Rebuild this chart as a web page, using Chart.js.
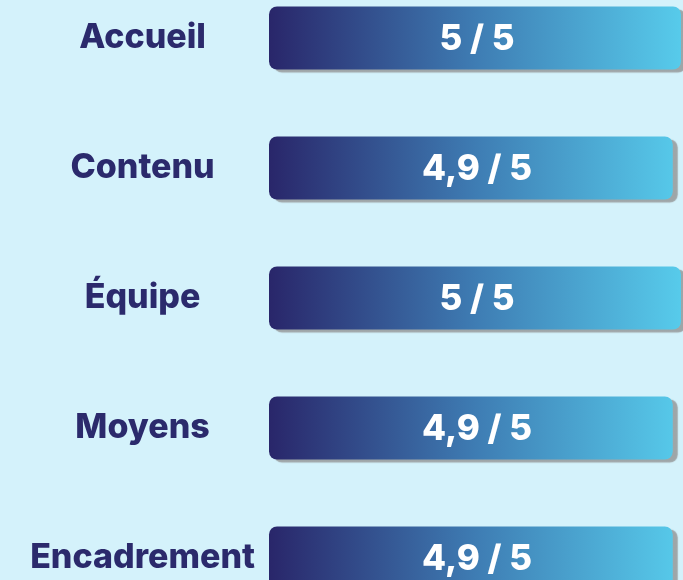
<!DOCTYPE html>
<html>
<head>
<meta charset="utf-8">
<script src="https://cdn.jsdelivr.net/npm/chart.js@4.4.1/dist/chart.umd.min.js"></script>
<style>
html, body { margin: 0; padding: 0; background: #d4f2fb; overflow: hidden; width: 683px; height: 580px; }
#wrap { position: absolute; left: 0; top: -27px; width: 683px; height: 650px; }
</style>
</head>
<body>
<div id="wrap"><canvas id="notes"></canvas></div>
<script>
var categories = ['Accueil', 'Contenu', 'Équipe', 'Moyens', 'Encadrement'];
var notes = [5, 4.9, 5, 4.9, 4.9];
var noteMax = 5;

var navy = '#2b2a6c';

function barGradient(context) {
    var chart = context.chart;
    var area = chart.chartArea;
    if (!area) return navy;
    var g = chart.ctx.createLinearGradient(area.left, 0, area.right, 0);
    g.addColorStop(0, '#29266a');
    g.addColorStop(0.5, '#3e7cb3');
    g.addColorStop(1, '#57cbeb');
    return g;
}

// grey drop shadow behind the bars
var barShadow = {
    id: 'barShadow',
    beforeDatasetDraw: function(chart) {
        var c = chart.ctx;
        c.save();
        c.shadowColor = 'rgba(140,140,140,0.75)';
        c.shadowOffsetX = 5;
        c.shadowOffsetY = 3;
        c.shadowBlur = 1;
    },
    afterDatasetDraw: function(chart) {
        chart.ctx.restore();
    }
};

// "5 / 5" text in the middle of each bar
var noteLabels = {
    id: 'noteLabels',
    afterDatasetsDraw: function(chart) {
        var c = chart.ctx;
        var area = chart.chartArea;
        var meta = chart.getDatasetMeta(0);
        c.save();
        c.fillStyle = '#ffffff';
        c.font = '800 35px Inter';
        c.textAlign = 'center';
        c.textBaseline = 'middle';
        meta.data.forEach(function(bar, i) {
            var txt = String(notes[i]).replace('.', ',') + ' / ' + noteMax;
            c.fillText(txt, (area.left + area.right) / 2 + 2, bar.y + 1);
        });
        c.restore();
    }
};

new Chart(document.getElementById('notes'), {
    type: 'bar',
    data: {
        labels: categories,
        datasets: [{
            data: notes,
            backgroundColor: barGradient,
            borderRadius: 8,
            borderSkipped: false,
            categoryPercentage: 1,
            barPercentage: 0.485,
            clip: false
        }]
    },
    options: {
        indexAxis: 'y',
        responsive: true,
        maintainAspectRatio: false,
        animation: false,
        layout: { padding: { left: 0, right: 2, top: 0, bottom: 0 } },
        plugins: {
            legend: { display: false },
            tooltip: { enabled: false }
        },
        scales: {
            x: { display: false, min: 0, max: noteMax },
            y: {
                grid: { display: false, drawTicks: false },
                border: { display: false },
                afterFit: function(scale) {
                    scale.width = 269;
                    scale.paddingTop = 0;
                    scale.paddingBottom = 0;
                },
                ticks: {
                    color: navy,
                    font: { family: 'Inter', size: 34, weight: '800' },
                    crossAlign: 'center',
                    padding: 14
                }
            }
        }
    },
    plugins: [barShadow, noteLabels]
});
</script>
</body>
</html>
